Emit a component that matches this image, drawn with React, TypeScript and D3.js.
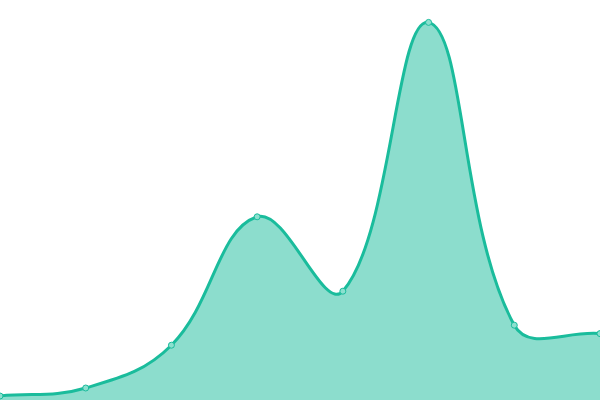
import { scaleLinear, scalePoint, area as d3_area, line as d3_line } from "d3";

const categories = ["A", "B", "C", "D", "E", "F", "G", "H"];
const values = [1, 3, 13.7, 45.8, 27.2, 94.4, 18.7, 16.6];

const W = 600;
const H = 400;

// spline with distance-weighted control points (tension 0.4), as a d3 curve
class TensionSpline {
  _context: any;
  _t: number;
  _x: number[] = [];
  _y: number[] = [];
  _line = NaN;
  constructor(context: any, t: number) {
    this._context = context;
    this._t = t;
  }
  areaStart() {
    this._line = 0;
  }
  areaEnd() {
    this._line = NaN;
  }
  lineStart() {
    this._x = [];
    this._y = [];
  }
  point(x: number, y: number) {
    this._x.push(+x);
    this._y.push(+y);
  }
  lineEnd() {
    const xs = this._x;
    const ys = this._y;
    const n = xs.length;
    const ctx = this._context;
    if (n) {
      if (this._line) ctx.lineTo(xs[0], ys[0]);
      else ctx.moveTo(xs[0], ys[0]);
      const cpPrev: [number, number][] = [];
      const cpNext: [number, number][] = [];
      for (let i = 0; i < n; i++) {
        const p = i > 0 ? i - 1 : i;
        const q = i < n - 1 ? i + 1 : i;
        const d01 = Math.hypot(xs[i] - xs[p], ys[i] - ys[p]);
        const d12 = Math.hypot(xs[q] - xs[i], ys[q] - ys[i]);
        let s01 = d01 / (d01 + d12);
        let s12 = d12 / (d01 + d12);
        if (isNaN(s01)) s01 = 0;
        if (isNaN(s12)) s12 = 0;
        const fa = this._t * s01;
        const fb = this._t * s12;
        cpPrev.push([xs[i] - fa * (xs[q] - xs[p]), ys[i] - fa * (ys[q] - ys[p])]);
        cpNext.push([xs[i] + fb * (xs[q] - xs[p]), ys[i] + fb * (ys[q] - ys[p])]);
      }
      for (let i = 0; i < n - 1; i++) {
        ctx.bezierCurveTo(
          cpNext[i][0], cpNext[i][1],
          cpPrev[i + 1][0], cpPrev[i + 1][1],
          xs[i + 1], ys[i + 1]
        );
      }
    }
    if (this._line || (this._line !== 0 && n === 1)) ctx.closePath();
    this._line = 1 - this._line;
  }
}

const curveTension = (t: number) => (context: any) => new TensionSpline(context, t) as any;

export default function App() {
  const x = scalePoint<string>().domain(categories).range([0, W]);
  const y = scaleLinear().domain([0, 100]).range([H, 0]);

  const pts = categories.map((c, i) => ({ c, v: values[i] }));
  const curve = curveTension(0.4);

  const areaGen = d3_area<{ c: string; v: number }>()
    .x((d) => x(d.c) ?? 0)
    .y0(H)
    .y1((d) => y(d.v))
    .curve(curve);

  const lineGen = d3_line<{ c: string; v: number }>()
    .x((d) => x(d.c) ?? 0)
    .y((d) => y(d.v))
    .curve(curve);

  return (
    <div style={{ position: "fixed", left: 0, top: 0, width: W, height: H, background: "#fff" }}>
      <svg width={W} height={H} style={{ display: "block" }}>
        <path d={areaGen(pts) ?? ""} fill="#1abc9c" fillOpacity={0.5} />
        <path d={lineGen(pts) ?? ""} fill="none" stroke="#1abc9c" strokeWidth={3} />
        {pts.map((d, i) => (
          <circle key={i} cx={x(d.c)} cy={y(d.v)} r={3} fill="#8ce0cf" stroke="#1abc9c" strokeWidth={1} />
        ))}
      </svg>
    </div>
  );
}
